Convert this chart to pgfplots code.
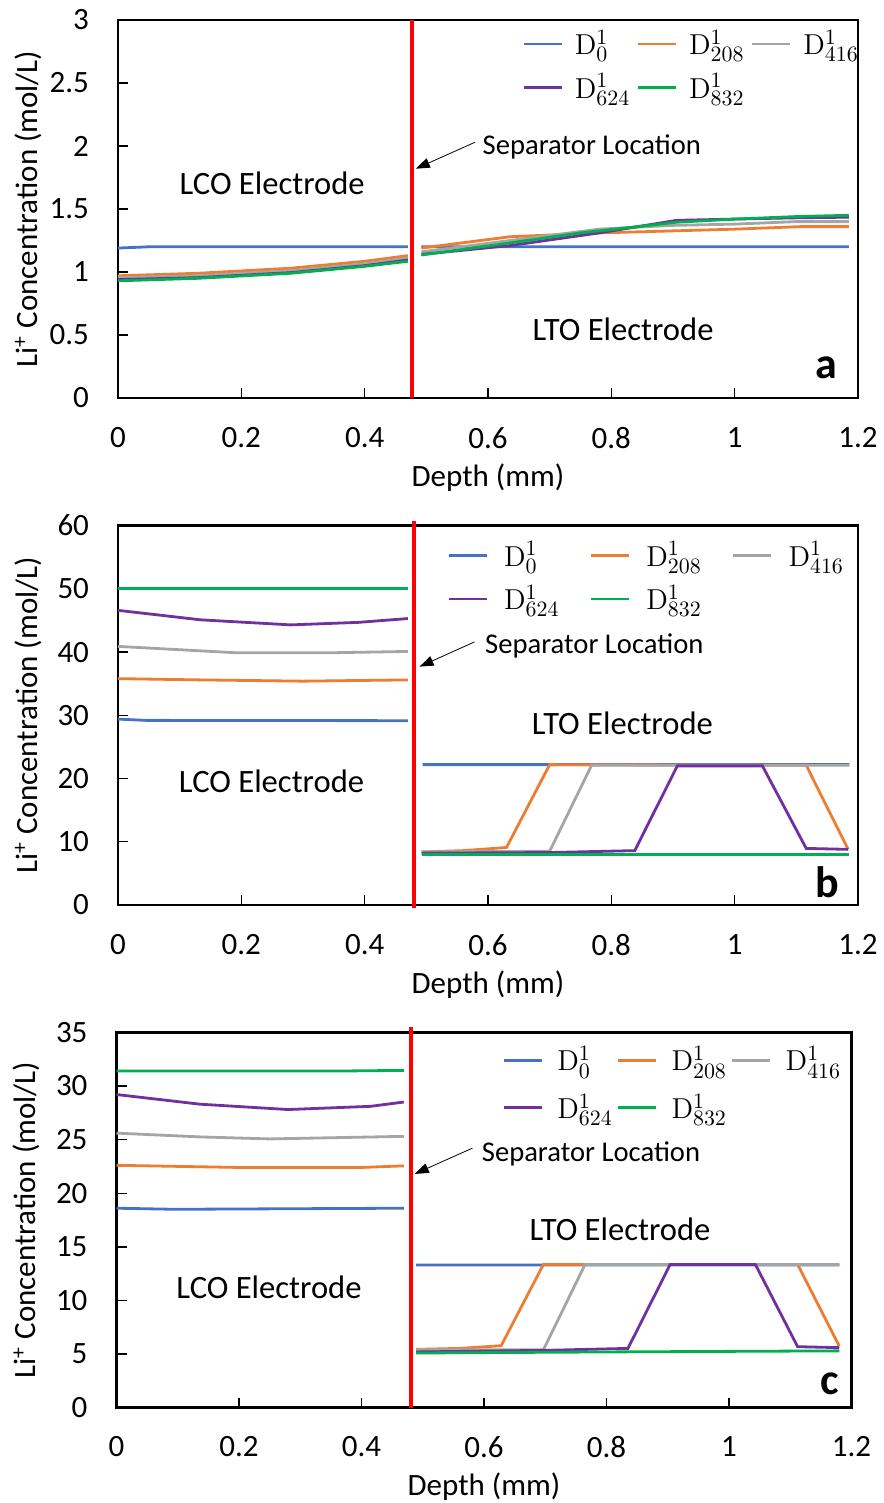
\documentclass[border=0pt]{standalone}
\usepackage[no-math]{fontspec}
\setmainfont{Carlito}
\usepackage{pgfplots}
\pgfplotsset{compat=1.18}
\usetikzlibrary{arrows.meta}

\definecolor{cBlue}{HTML}{4472C4}
\definecolor{cOrange}{HTML}{ED7D31}
\definecolor{cGray}{HTML}{A5A5A5}
\definecolor{cPurple}{HTML}{7030A0}
\definecolor{cGreen}{HTML}{00B050}

\pgfplotsset{
  panel/.style={
    scale only axis,
    clip=false,
    axis line style={black, line width=1.3pt},
    tick align=inside,
    xtick pos=bottom, ytick pos=left,
    major tick length=5pt,
    every tick/.style={black, line width=0.7pt},
    xmin=0, xmax=1.2,
    xtick={0,0.2,...,1.2},
    /pgf/number format/assume math mode=true,
    tick label style={font=\fontsize{15.5}{18}\selectfont},
    yticklabel style={xshift=-11pt},
    xticklabel style={yshift=-11pt},
    label style={font=\fontsize{15.5}{18}\selectfont},
    xlabel={Depth (mm)},
    ylabel={Li\textsuperscript{+} Concentration (mol/L)},
    unbounded coords=jump,
    every axis plot/.append style={line width=1.4pt, mark=none},
    legend columns=3,
    legend image code/.code={\draw[#1] (0pt,0pt) -- (19pt,0pt);},
    legend cell align=left,
  },
}

\newcommand{\lfont}{\fontsize{15}{18}\selectfont}

\begin{document}
\begin{tikzpicture}
\path[use as bounding box] (0,0) rectangle (441.5pt,-751.5pt);

% ---------- panel a ----------
\begin{axis}[panel,
  at={(59pt,-199pt)}, anchor=south west,
  width=370pt, height=189pt,
  ymin=0, ymax=3, ytick={0,0.5,...,3},
  ylabel style={at={(axis description cs:-0.1216,0.5)}, anchor=center},
  xlabel style={at={(axis description cs:0.5,-0.2116)}, anchor=center},
  legend style={draw=none, fill=none, font=\lfont, row sep=4pt,
    at={(axis description cs:1.015,0.995)}, anchor=north east,
    /tikz/every odd column/.append style={column sep=4pt},
    /tikz/every even column/.append style={column sep=1pt}},
]
\addplot[cBlue] coordinates {(0,1.19)(0.05,1.20)(0.47,1.20)(0.48,nan)(0.492,1.20)(1.185,1.20)};
\addlegendentry{$\mathrm{D}^{1}_{0}$}
\addplot[cOrange] coordinates {(0,0.97)(0.13,0.99)(0.28,1.03)(0.4,1.085)(0.47,1.13)(0.48,nan)
  (0.492,1.19)(0.636,1.28)(0.78,1.31)(1.0,1.34)(1.106,1.36)(1.185,1.36)};
\addlegendentry{$\mathrm{D}^{1}_{208}$}
\addplot[cGray] coordinates {(0,0.955)(0.13,0.97)(0.28,1.01)(0.4,1.065)(0.47,1.11)(0.48,nan)
  (0.492,1.16)(0.636,1.25)(0.78,1.34)(0.9,1.37)(1.0,1.38)(1.1,1.40)(1.185,1.40)};
\addlegendentry{$\mathrm{D}^{1}_{416}$}
\addplot[cPurple] coordinates {(0,0.94)(0.13,0.955)(0.28,0.995)(0.4,1.05)(0.47,1.095)(0.48,nan)
  (0.492,1.14)(0.636,1.21)(0.78,1.31)(0.906,1.41)(1.0,1.42)(1.1,1.43)(1.185,1.435)};
\addlegendentry{$\mathrm{D}^{1}_{624}$}
\addplot[cGreen] coordinates {(0,0.93)(0.13,0.95)(0.28,0.99)(0.4,1.045)(0.47,1.085)(0.48,nan)
  (0.492,1.135)(0.62,1.22)(0.75,1.31)(0.906,1.395)(1.0,1.42)(1.1,1.44)(1.185,1.45)};
\addlegendentry{$\mathrm{D}^{1}_{832}$}
\addplot[red, line width=2.2pt, forget plot] coordinates {(0.477,0)(0.477,3)};
\draw[-{Triangle[length=7pt,width=5pt]}, line width=0.4pt] (axis cs:0.579,2.03) -- (axis cs:0.483,1.82);
\node[anchor=west, font=\fontsize{14.3}{16}\selectfont] at (axis cs:0.58,1.99) {Separator Location};
\node[font=\fontsize{16.3}{18}\selectfont] at (axis cs:0.25,1.706) {LCO Electrode};
\node[font=\fontsize{16.3}{18}\selectfont] at (axis cs:0.819,0.548) {LTO Electrode};
\node[font=\fontsize{22}{24}\selectfont\bfseries] at (axis cs:1.148,0.24) {a};
\end{axis}

% ---------- panel b ----------
\begin{axis}[panel,
  at={(59pt,-452.5pt)}, anchor=south west,
  width=370pt, height=189.7pt,
  ymin=0, ymax=60, ytick={0,10,...,60},
  ylabel style={at={(axis description cs:-0.1216,0.5)}, anchor=center},
  xlabel style={at={(axis description cs:0.5,-0.2108)}, anchor=center},
  legend style={draw=none, fill=none, font=\lfont, row sep=4pt,
    at={(axis description cs:0.995,0.98)}, anchor=north east,
    /tikz/every odd column/.append style={column sep=6pt},
    /tikz/every even column/.append style={column sep=13pt}},
]
\addplot[cBlue] coordinates {(0,29.4)(0.045,29.2)(0.47,29.15)(0.48,nan)(0.494,22.2)(1.186,22.2)};
\addlegendentry{$\mathrm{D}^{1}_{0}$}
\addplot[cOrange] coordinates {(0,35.8)(0.134,35.6)(0.3,35.4)(0.47,35.6)(0.48,nan)
  (0.4925,8.4)(0.56,8.6)(0.63,9.1)(0.70,22.2)(1.116,22.1)(1.184,8.8)};
\addlegendentry{$\mathrm{D}^{1}_{208}$}
\addplot[cGray] coordinates {(0,40.9)(0.19,39.9)(0.35,39.9)(0.47,40.1)(0.48,nan)
  (0.4925,8.4)(0.70,8.5)(0.768,22.1)(1.186,22.1)};
\addlegendentry{$\mathrm{D}^{1}_{416}$}
\addplot[cPurple] coordinates {(0,46.6)(0.134,45.1)(0.28,44.3)(0.39,44.7)(0.47,45.3)(0.48,nan)
  (0.4925,8.2)(0.7,8.3)(0.838,8.6)(0.907,22.0)(1.045,22.0)(1.116,8.95)(1.184,8.8)};
\addlegendentry{$\mathrm{D}^{1}_{624}$}
\addplot[cGreen] coordinates {(0,50)(0.47,50)(0.48,nan)(0.4925,8.0)(1.186,8.0)};
\addlegendentry{$\mathrm{D}^{1}_{832}$}
\addplot[red, line width=2.2pt, forget plot] coordinates {(0.48,-0.5)(0.48,60.7)};
\draw[-{Triangle[length=7pt,width=5pt]}, line width=0.4pt] (axis cs:0.578,41.6) -- (axis cs:0.489,37.7);
\node[anchor=west, font=\fontsize{14.3}{16}\selectfont] at (axis cs:0.584,40.96) {Separator Location};
\node[font=\fontsize{16.3}{18}\selectfont] at (axis cs:0.249,19.6) {LCO Electrode};
\node[font=\fontsize{16.3}{18}\selectfont] at (axis cs:0.818,28.8) {LTO Electrode};
\node[font=\fontsize{22}{24}\selectfont\bfseries] at (axis cs:1.15,3.6) {b};
\end{axis}

% ---------- panel c ----------
\begin{axis}[panel,
  at={(58.25pt,-703.85pt)}, anchor=south west,
  width=367.5pt, height=187.7pt,
  ymin=0, ymax=35, ytick={0,5,...,35},
  ylabel style={at={(axis description cs:-0.1224,0.5)}, anchor=center},
  xlabel style={at={(axis description cs:0.5,-0.2104)}, anchor=center},
  legend style={draw=none, fill=none, font=\lfont, row sep=6pt,
    at={(axis description cs:1.0,0.985)}, anchor=north east,
    /tikz/every odd column/.append style={column sep=5pt},
    /tikz/every even column/.append style={column sep=0pt}},
]
\addplot[cBlue] coordinates {(0,18.6)(0.095,18.5)(0.469,18.6)(0.48,nan)(0.489,13.3)(1.18,13.3)};
\addlegendentry{$\mathrm{D}^{1}_{0}$}
\addplot[cOrange] coordinates {(0,22.6)(0.2,22.4)(0.4,22.4)(0.469,22.55)(0.48,nan)
  (0.489,5.44)(0.56,5.53)(0.628,5.78)(0.697,13.36)(1.112,13.36)(1.18,5.75)};
\addlegendentry{$\mathrm{D}^{1}_{208}$}
\addplot[cGray] coordinates {(0,25.6)(0.136,25.25)(0.25,25.06)(0.469,25.3)(0.48,nan)
  (0.489,5.4)(0.697,5.4)(0.765,13.36)(1.18,13.36)};
\addlegendentry{$\mathrm{D}^{1}_{416}$}
\addplot[cPurple] coordinates {(0,29.2)(0.136,28.3)(0.28,27.8)(0.415,28.1)(0.469,28.5)(0.48,nan)
  (0.489,5.2)(0.7,5.35)(0.835,5.53)(0.904,13.36)(1.043,13.36)(1.112,5.69)(1.18,5.6)};
\addlegendentry{$\mathrm{D}^{1}_{624}$}
\addplot[cGreen] coordinates {(0,31.4)(0.38,31.4)(0.469,31.45)(0.48,nan)(0.489,5.1)(0.8,5.2)(1.18,5.3)};
\addlegendentry{$\mathrm{D}^{1}_{832}$}
\addplot[red, line width=2.2pt, forget plot] coordinates {(0.481,0)(0.481,35.5)};
\draw[-{Triangle[length=7pt,width=5pt]}, line width=0.4pt] (axis cs:0.581,24.2) -- (axis cs:0.487,21.8);
\node[anchor=west, font=\fontsize{14.3}{16}\selectfont] at (axis cs:0.585,23.7) {Separator Location};
\node[font=\fontsize{16.3}{18}\selectfont] at (axis cs:0.249,11.25) {LCO Electrode};
\node[font=\fontsize{16.3}{18}\selectfont] at (axis cs:0.822,16.65) {LTO Electrode};
\node[font=\fontsize{22}{24}\selectfont\bfseries] at (axis cs:1.165,2.2) {c};
\end{axis}
\end{tikzpicture}
\end{document}
